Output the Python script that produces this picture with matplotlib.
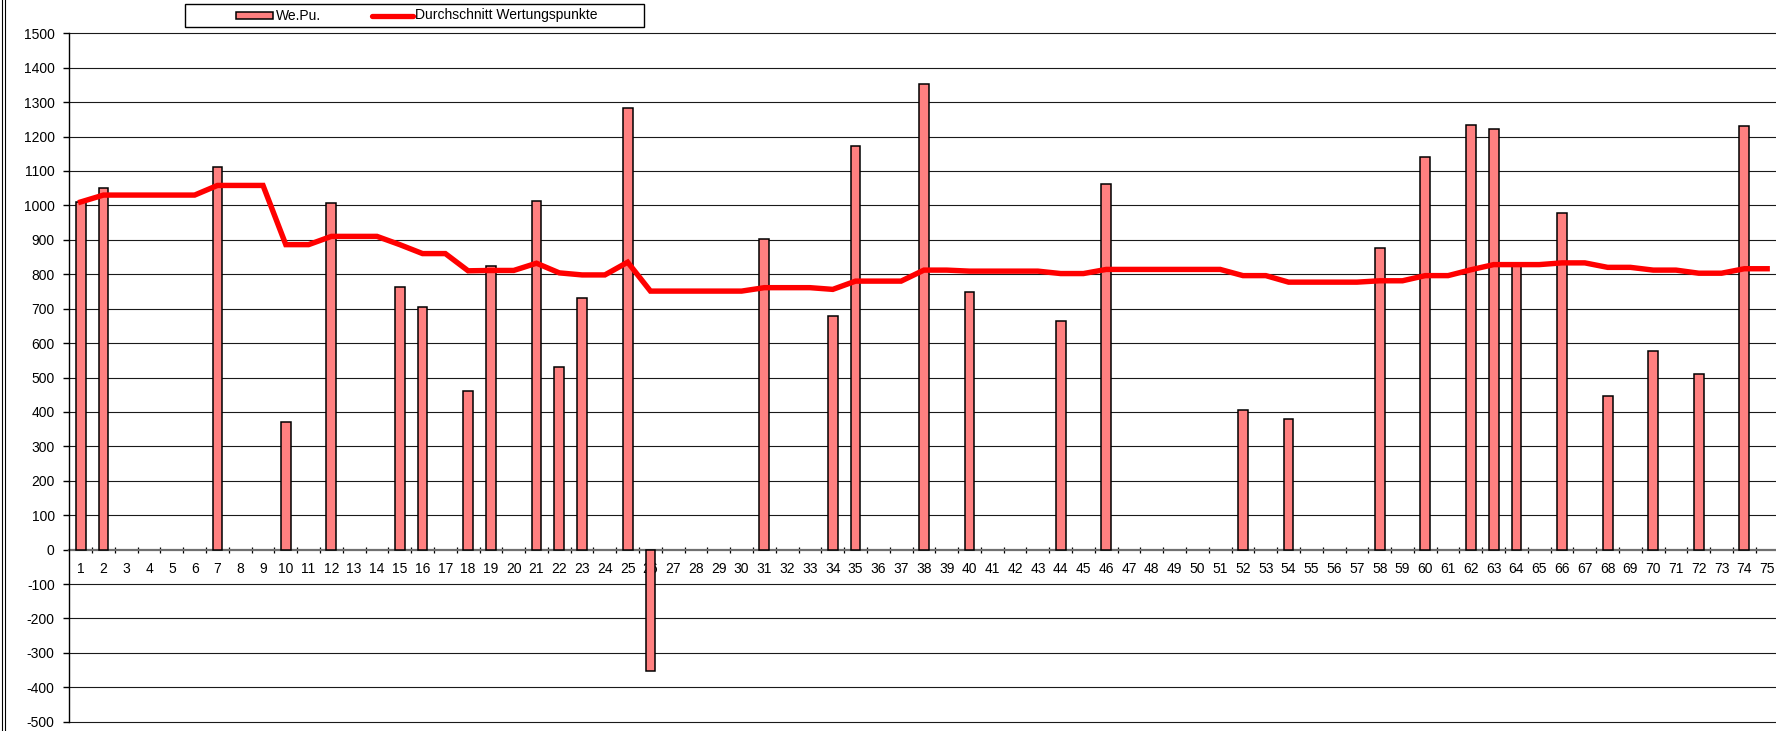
"""
Wertungspunkte je Durchgang mit laufendem Durchschnitt
"""

import numpy as np
import matplotlib
matplotlib.use("Agg")
import matplotlib.pyplot as plt
from matplotlib.patches import Rectangle
from matplotlib.lines import Line2D

plt.rcParams["font.family"] = ["Liberation Sans", "DejaVu Sans"]

# Kategorien 1..75
categories = list(range(1, 76))

# Wertungspunkte (nur belegte Kategorien)
bar_categories = [1, 2, 7, 10, 12, 15, 16, 18, 19, 21, 22, 23, 25, 26, 31, 34,
                  35, 38, 40, 44, 46, 52, 54, 58, 60, 62, 63, 64, 66, 68, 70,
                  72, 74]
bar_values = [1010, 1050, 1113, 371, 1006, 763, 705, 460, 825, 1014, 531, 732,
              1282, -353, 902, 680, 1173, 1353, 749, 665, 1063, 406, 379, 875,
              1140, 1235, 1222, 825, 979, 447, 576, 511, 1230]

# Durchschnitt Wertungspunkte
avg_values = [1010, 1030, 1030, 1030, 1030, 1030, 1058, 1058, 1058, 886,
              886, 910, 910, 910, 886, 860, 860, 810, 811, 811,
              832, 804, 798, 798, 835, 751, 751, 751, 751, 751,
              761, 761, 761, 756, 780, 780, 780, 812, 812, 809,
              809, 809, 809, 802, 802, 814, 814, 814, 814, 814,
              814, 796, 796, 777, 777, 777, 777, 781, 781, 796,
              796, 813, 828, 828, 828, 833, 833, 820, 820, 812,
              812, 803, 803, 816, 816]

y_ticks = list(range(-500, 1501, 100))
legend_labels = ["We.Pu.", "Durchschnitt Wertungspunkte"]

W, H = 1776, 731
bar_color = "#FF8080"
line_color = "#FF0000"


def fx(px):
    return px / W


def fy(py):
    return 1 - py / H


def draw_legend(fig):
    # Rahmen
    fig.patches.append(Rectangle((fx(185), fy(27)), fx(644) - fx(185),
                                 fy(4) - fy(27), transform=fig.transFigure,
                                 fill=False, edgecolor="black", linewidth=1.0))
    # Balken-Symbol
    fig.patches.append(Rectangle((fx(236), fy(19)), fx(273) - fx(236),
                                 fy(12) - fy(19), transform=fig.transFigure,
                                 facecolor=bar_color, edgecolor="black",
                                 linewidth=1.1))
    fig.text(fx(276), fy(15.5), legend_labels[0], fontsize=10,
             ha="left", va="center")
    # Linien-Symbol
    fig.lines.append(Line2D([fx(372), fx(413)], [fy(15.5), fy(15.5)],
                            transform=fig.transFigure, color=line_color,
                            linewidth=3.8, solid_capstyle="round"))
    fig.text(fx(415), fy(15.5), legend_labels[1], fontsize=10,
             ha="left", va="center")


def plot_chart(output_path="out.png"):
    fig = plt.figure(figsize=(W / 100, H / 100), dpi=100)
    left = 69.3 / W
    width = 75 * 22.79 / W
    bottom = (H - 721.7) / H
    top = (H - 33.3) / H
    ax = fig.add_axes([left, bottom, width, top - bottom])

    for y in y_ticks:
        if y != 0:
            ax.axhline(y, color="#1a1a1a", linewidth=0.8, zorder=1,
                       clip_on=False)

    ax.bar(bar_categories, bar_values, width=0.43, color=bar_color,
           edgecolor="black", linewidth=1.1, zorder=3)
    ax.plot(categories, avg_values, color=line_color, linewidth=3.9,
            solid_joinstyle="miter", zorder=4)

    ax.set_xlim(0.5, 75.5)
    ax.set_ylim(-500, 1500)

    for side in ["top", "right"]:
        ax.spines[side].set_visible(False)
    ax.spines["bottom"].set_position(("data", 0))
    ax.spines["bottom"].set_color("#707070")
    ax.spines["bottom"].set_linewidth(1.6)
    ax.spines["bottom"].set_zorder(2)
    ax.spines["left"].set_linewidth(1.0)

    ax.set_yticks(y_ticks)
    ax.set_yticklabels([str(v) for v in y_ticks])
    ax.tick_params(axis="y", direction="out", length=4, width=1,
                   labelsize=10, pad=6.5, colors="black")

    ax.set_xticks(categories)
    ax.set_xticklabels([str(c) for c in categories])
    ax.set_xticks(np.arange(1.5, 75.5, 1.0), minor=True)
    ax.tick_params(axis="x", which="major", length=0, labelsize=10, pad=9)
    ax.tick_params(axis="x", which="minor", direction="inout", length=5,
                   width=0.9, color="black")

    draw_legend(fig)

    # doppelter Rand links
    for px in (1.5, 4.5):
        fig.lines.append(Line2D([fx(px), fx(px)], [0, 1],
                                transform=fig.transFigure, color="black",
                                linewidth=0.8))

    fig.savefig(output_path, dpi=100)
    plt.close(fig)
    print(f"Chart saved: {output_path}")


def main():
    plot_chart()


if __name__ == "__main__":
    main()
